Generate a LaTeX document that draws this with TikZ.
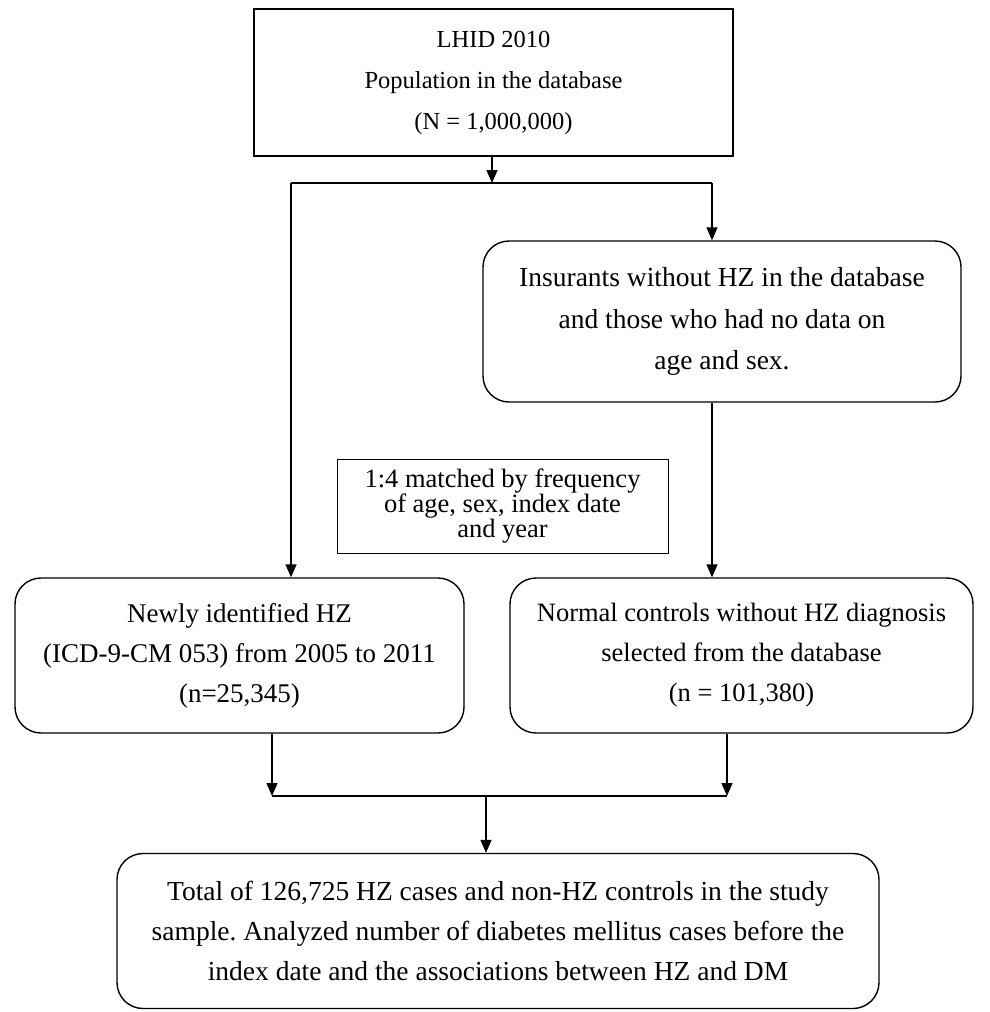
\documentclass[tikz,border=0pt]{standalone}
\usepackage{fontspec}
\setmainfont{Liberation Serif}
\frenchspacing
\usetikzlibrary{arrows.meta,calc}
\begin{document}
\begin{tikzpicture}[x=1pt,y=-1pt,
  box/.style={draw,line width=1.4pt,align=center,inner sep=0pt},
  rbox/.style={box,rounded corners=26pt},
  note/.style={draw,line width=0.8pt,align=center,inner sep=0pt,font=\fontsize{26.5}{25}\selectfont},
  conn/.style={line width=1.4pt},
  arr/.style={conn,-{Triangle[width=11pt,length=13pt]}}]
\useasboundingbox (0,0) rectangle (990,1012);
\node[box,minimum width=479pt,minimum height=147pt,font=\fontsize{24.5}{41}\selectfont] (top) at (493.5,82.5)
  {LHID 2010\\Population in the database\\(N = 1,000,000)};
\node[rbox,minimum width=478pt,minimum height=161pt,font=\fontsize{27.5}{41.5}\selectfont] (ins) at (722,321.5)
  {Insurants without HZ in the database\\and those who had no data on\\age and sex.};
\node[note,minimum width=331pt,minimum height=94pt] (match) at (502.5,506)
  {1:4 matched by frequency\\of age, sex, index date\\and year};
\node[rbox,minimum width=449pt,minimum height=155pt,font=\fontsize{27}{40}\selectfont] (hz) at (239.5,655.5)
  {Newly identified HZ\\(ICD-9-CM 053) from 2005 to 2011\\(n=25,345)};
\node[rbox,minimum width=463pt,minimum height=155pt,font=\fontsize{26.5}{40}\selectfont] (ctl) at (741.5,655.5)
  {Normal controls without HZ diagnosis\\selected from the database\\(n = 101,380)};
\node[rbox,minimum width=762pt,minimum height=155pt,font=\fontsize{27.5}{40}\selectfont] (tot) at (498,931)
  {Total of 126,725 HZ cases and non-HZ controls in the study\\sample. Analyzed number of diabetes mellitus cases before the\\index date and the associations between HZ and DM};
\coordinate (split) at (492,183);
\coordinate (sl) at (291,183);
\coordinate (sr) at (712,183);
\coordinate (join) at (486,796);
\coordinate (jl) at (272,796);
\coordinate (jr) at (727,796);
\draw[arr] (top.south -| split) -- (split);
\draw[conn] (sl) -- (sr);
\draw[arr] (sl) -- (sl |- hz.north);
\draw[arr] (sr) -- (sr |- ins.north);
\draw[arr] (ins.south -| sr) -- (sr |- ctl.north);
\draw[arr] (hz.south -| jl) -- (jl);
\draw[arr] (ctl.south -| jr) -- (jr);
\draw[conn] (jl) -- (jr);
\draw[arr] (join) -- (join |- tot.north);
\end{tikzpicture}
\end{document}
